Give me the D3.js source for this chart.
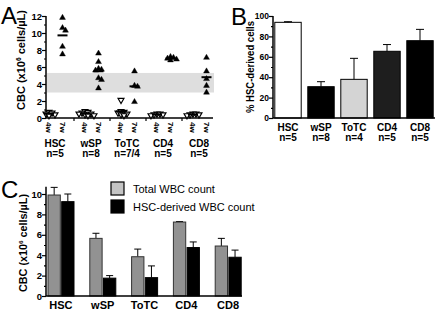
<!DOCTYPE html>
<html>
<head>
<meta charset="utf-8">
<script src="https://cdn.jsdelivr.net/npm/d3@7"></script>
<style>
body { margin: 0; background: #fff; }
text { font-family: "Liberation Sans", Arial, sans-serif; }
</style>
</head>
<body>
<svg id="fig" width="440" height="314"></svg>
<script>
// Groups and labels
var groups = ["HSC", "wSP", "ToTC", "CD4", "CD8"]
var weeks = ["4w", "7w"]
var nLabelsA = ["n=5", "n=8", "n=7/4", "n=5", "n=5"]
var nLabelsB = ["n=5", "n=8", "n=4", "n=5", "n=5"]

// Panel A - CBC of each mouse (x10^6 cells/uL)
var cbc4w = [
    [0.7, 0.6, 0.5, 0.4, 0.3],
    [0.8, 0.7, 0.6, 0.5, 0.5, 0.4, 0.3, 0.3],
    [2.1, 0.8, 0.7, 0.6, 0.5, 0.4, 0.3],
    [0.5, 0.5, 0.4, 0.4, 0.3],
    [0.5, 0.5, 0.4, 0.4, 0.3]
]
var cbc7w = [
    [11.8, 10.6, 10.3, 8.4, 7.5],
    [7.6, 6.6, 5.8, 5.7, 5.6, 4.7, 4.5, 3.5],
    [5.5, 3.8, 3.7, 1.9],
    [7.2, 7.1, 7.0, 6.9, 6.8],
    [7.1, 5.5, 4.6, 3.8, 3.0]
]
var normalRange = [3, 5.3]
var ticksA = [0, 2, 4, 6, 8, 10, 12]

// Panel B - % HSC-derived cells
var pctHSC = [93.8, 30.7, 37.9, 65.4, 75.8]
var pctErr = [0.6, 4.9, 20.6, 6.6, 11.1]
var colorsB = ["#ffffff", "#000000", "#d4d4d4", "#1e1e1e", "#000000"]
var ticksB = [0, 20, 40, 60, 80, 100]

// Panel C - WBC counts
var series = ["Total WBC count", "HSC-derived WBC count"]
var totalWBC = [9.9, 5.65, 3.85, 7.25, 4.9]
var totalErr = [0.75, 0.5, 0.75, 0.05, 0.75]
var hscWBC = [9.25, 1.75, 1.8, 4.75, 3.8]
var hscErr = [0.75, 0.25, 1.15, 0.55, 0.7]
var colorsC = ["#929292", "#000000"]
var ticksC = [0, 2, 4, 6, 8, 10]

var svg = d3.select("#fig")

// helper: y axis with major + minor ticks
function yAxis(g, scale, major, minor, size) {
    g.call(d3.axisLeft(scale).tickValues(major).tickSize(4).tickFormat(d3.format("d")))
    g.append("g").call(d3.axisLeft(scale).tickValues(minor).tickSize(2).tickFormat(""))
    g.selectAll("path").remove()
    g.selectAll("line").attr("stroke", "#000").attr("stroke-width", 1.2)
    g.selectAll("text").attr("font-size", size).attr("font-weight", "bold").attr("fill", "#000")
        .attr("x", -4).attr("font-family", "Liberation Sans, Arial, sans-serif")
}

function ylabel(x, y, size, len) {
    var t = svg.append("text")
    .attr("transform", `translate(${x},${y}) rotate(-90)`)
    .attr("text-anchor", "middle")
    .attr("font-size", size)
    .attr("font-weight", "bold")
    .attr("textLength", len)
    .attr("lengthAdjust", "spacingAndGlyphs")
    t.append("tspan").text("CBC (x10")
    t.append("tspan").text("6").attr("font-size", size * 0.6).attr("dy", -4)
    t.append("tspan").text(" cells/µL)").attr("dy", 4)
}

function panelLetter(x, y, s) {
    svg.append("text").attr("x", x).attr("y", y).attr("font-size", 24).text(s)
}

// spread points that overlap (column scatter)
function swarm(vals, y, d) {
    var placed = []
    return vals.map(function(v) {
        var py = y(v), k = 0, off = 0
        while (true) {
            off = k == 0 ? 0 : (k % 2 ? 1 : -1) * Math.ceil(k / 2) * d
            var hit = placed.some(p => Math.abs(p.x - off) < d && Math.abs(p.y - py) < 3)
            if (!hit) break
            k++
        }
        placed.push({ x: off, y: py })
        return off
    })
}

// ---------------- Panel A ----------------
panelLetter(1, 24, "A")
var yA = d3.scaleLinear().domain([0, 12]).range([118, 16])
var xA = d3.scaleBand().domain(groups).range([38, 218])
var sub = d3.scalePoint().domain(weeks).range([11, 24.5])
var axisLeftA = 46, axisRightA = 213

// normal range band
svg.append("rect")
.attr("x", axisLeftA + 1).attr("width", axisRightA - axisLeftA)
.attr("y", yA(normalRange[1])).attr("height", yA(normalRange[0]) - yA(normalRange[1]))
.attr("fill", "#dedede")

var gA = svg.append("g").attr("transform", `translate(${axisLeftA},0)`)
yAxis(gA, yA, ticksA, [1, 3, 5, 7, 9, 11], 9.5)
gA.append("line").attr("y1", yA(0)).attr("y2", yA(12)).attr("stroke", "#000").attr("stroke-width", 1.5)

// x axis line + group ticks
svg.append("line").attr("x1", axisLeftA).attr("x2", axisRightA)
.attr("y1", yA(0)).attr("y2", yA(0)).attr("stroke", "#000").attr("stroke-width", 1.5)
svg.selectAll(".tA").data(groups.slice(1)).enter().append("line")
.attr("x1", d => xA(d)).attr("x2", d => xA(d))
.attr("y1", yA(0)).attr("y2", yA(0) + 3).attr("stroke", "#000").attr("stroke-width", 1.2)

var tri = d3.symbol().type(d3.symbolTriangle).size(15)
groups.forEach(function(g, i) {
    [cbc4w[i], cbc7w[i]].forEach(function(vals, w) {
        var cx = xA(g) + sub(weeks[w])
        var offs = swarm(vals, yA, 3)
        svg.selectAll(null).data(vals).enter().append("path")
        .attr("d", tri)
        .attr("transform", (d, j) => `translate(${cx + offs[j]},${yA(d)})` + (w == 0 ? " rotate(180)" : ""))
        .attr("fill", w == 0 ? "#fff" : "#000")
        .attr("stroke", "#000")
        .attr("stroke-width", w == 0 ? 1.2 : 0.4)
        // mean line
        var m = d3.mean(vals)
        svg.append("line").attr("x1", cx - 5).attr("x2", cx + 5)
        .attr("y1", yA(m)).attr("y2", yA(m)).attr("stroke", "#000").attr("stroke-width", 2)
    })
    // week labels
    weeks.forEach(function(wk) {
        svg.append("text")
        .attr("transform", `translate(${xA(g) + sub(wk) - 3},${yA(0) + 4}) rotate(90)`)
        .attr("font-size", 8).attr("font-weight", "bold").text(wk)
    })
    svg.append("text").attr("x", xA(g) + xA.bandwidth() / 2 - 1).attr("y", 147)
    .attr("text-anchor", "middle").attr("font-size", 10).attr("font-weight", "bold").text(g)
    svg.append("text").attr("x", xA(g) + xA.bandwidth() / 2 - 1).attr("y", 157)
    .attr("text-anchor", "middle").attr("font-size", 10).attr("font-weight", "bold").text(nLabelsA[i])
})
ylabel(25, 60, 10.5, 100)

// ---------------- Panel B ----------------
panelLetter(231, 25, "B")
var yB = d3.scaleLinear().domain([0, 100]).range([118, 16])
var xB = d3.scaleBand().domain(groups).range([271.5, 436.5]).paddingInner(0.2).paddingOuter(0.1)
var axisLeftB = 273

svg.selectAll(".barB").data(groups).enter().append("rect")
.attr("x", d => xB(d)).attr("width", xB.bandwidth())
.attr("y", (d, i) => yB(pctHSC[i])).attr("height", (d, i) => yB(0) - yB(pctHSC[i]))
.attr("fill", (d, i) => colorsB[i]).attr("stroke", "#000").attr("stroke-width", 1)

groups.forEach(function(g, i) {
    var cx = xB(g) + xB.bandwidth() / 2
    var top = yB(pctHSC[i] + pctErr[i])
    svg.append("line").attr("x1", cx).attr("x2", cx).attr("y1", yB(pctHSC[i])).attr("y2", top)
    .attr("stroke", "#000").attr("stroke-width", 1)
    svg.append("line").attr("x1", cx - 4).attr("x2", cx + 4).attr("y1", top).attr("y2", top)
    .attr("stroke", "#000").attr("stroke-width", 1)
    svg.append("text").attr("x", cx).attr("y", 131).attr("text-anchor", "middle")
    .attr("font-size", 10).attr("font-weight", "bold").text(g)
    svg.append("text").attr("x", cx).attr("y", 141).attr("text-anchor", "middle")
    .attr("font-size", 10).attr("font-weight", "bold").text(nLabelsB[i])
})

var gB = svg.append("g").attr("transform", `translate(${axisLeftB},0)`)
yAxis(gB, yB, ticksB, [10, 30, 50, 70, 90], 8.5)
gB.append("line").attr("y1", yB(0)).attr("y2", yB(100)).attr("stroke", "#000").attr("stroke-width", 1.5)
svg.append("line").attr("x1", axisLeftB).attr("x2", 435)
.attr("y1", yB(0)).attr("y2", yB(0)).attr("stroke", "#000").attr("stroke-width", 1.5)

svg.append("text")
.attr("transform", `translate(254,67) rotate(-90)`)
.attr("text-anchor", "middle").attr("font-size", 10.5).attr("font-weight", "bold")
.attr("textLength", 92).attr("lengthAdjust", "spacingAndGlyphs")
.text("% HSC-derived cells")

// ---------------- Panel C ----------------
panelLetter(1, 198, "C")
var yC = d3.scaleLinear().domain([0, 10]).range([296, 194])
var xC = d3.scaleBand().domain(groups).range([40, 249])
var subC = d3.scaleBand().domain(series).range([8, 34]).paddingInner(0.1)
var axisLeftC = 46, axisRightC = 242

groups.forEach(function(g, i) {
    [[totalWBC[i], totalErr[i]], [hscWBC[i], hscErr[i]]].forEach(function(v, s) {
        var x0 = xC(g) + subC(series[s])
        var cx = x0 + subC.bandwidth() / 2
        var top = yC(v[0] + v[1])
        svg.append("line").attr("x1", cx).attr("x2", cx).attr("y1", yC(v[0])).attr("y2", top)
        .attr("stroke", "#000").attr("stroke-width", 1)
        svg.append("line").attr("x1", cx - 3.5).attr("x2", cx + 3.5).attr("y1", top).attr("y2", top)
        .attr("stroke", "#000").attr("stroke-width", 1)
        svg.append("rect").attr("x", x0).attr("width", subC.bandwidth())
        .attr("y", yC(v[0])).attr("height", yC(0) - yC(v[0]))
        .attr("fill", colorsC[s]).attr("stroke", s == 0 ? "#333" : "#000").attr("stroke-width", 1)
    })
    svg.append("text").attr("x", xC(g) + xC.bandwidth() / 2).attr("y", 309)
    .attr("text-anchor", "middle").attr("font-size", 11).attr("font-weight", "bold").text(g)
})

var gC = svg.append("g").attr("transform", `translate(${axisLeftC},0)`)
yAxis(gC, yC, ticksC, [1, 3, 5, 7, 9], 9.5)
gC.append("line").attr("y1", yC(0)).attr("y2", yC(10.7)).attr("stroke", "#000").attr("stroke-width", 1.5)
svg.append("line").attr("x1", axisLeftC).attr("x2", axisRightC)
.attr("y1", yC(0)).attr("y2", yC(0)).attr("stroke", "#000").attr("stroke-width", 1.5)
ylabel(27, 243, 10, 98)

// legend
var legColors = ["#c4c4c4", "#000000"]
series.forEach(function(s, i) {
    svg.append("rect").attr("x", 111).attr("y", 182 + i * 18).attr("width", 13).attr("height", 13)
    .attr("fill", legColors[i]).attr("stroke", "#000").attr("stroke-width", 1.2)
    svg.append("text").attr("x", 133).attr("y", 193 + i * 18).attr("font-size", 11).text(s)
})
</script>
</body>
</html>
